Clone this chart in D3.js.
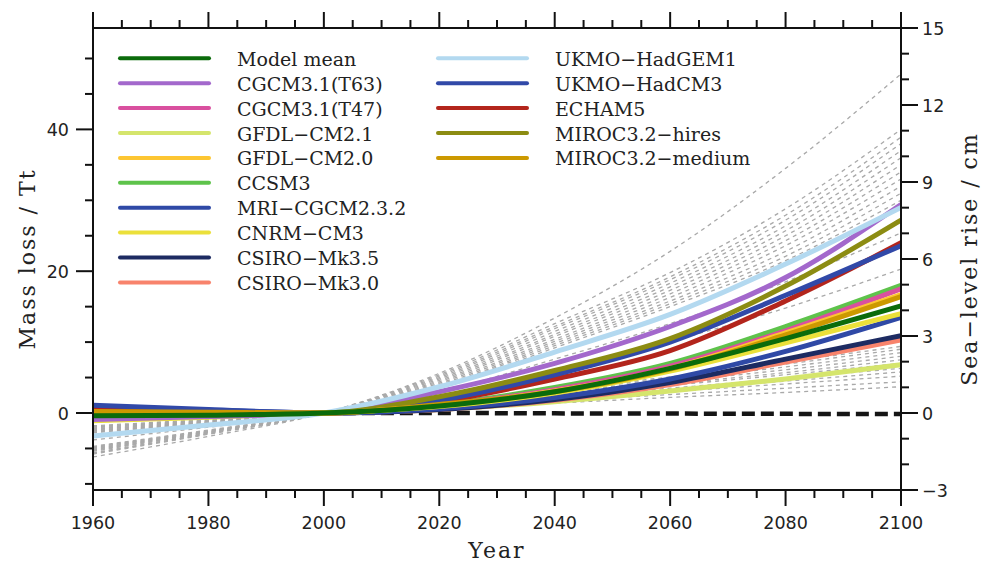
<!DOCTYPE html>
<html>
<head>
<meta charset="utf-8">
<script src="https://cdn.jsdelivr.net/npm/d3@7"></script>
<style>
  body { margin: 0; background: #fff; }
  svg { display: block; }
  .tick-label { font-family: "DejaVu Sans", sans-serif; font-size: 17.5px; fill: #222; }
  .axis-title { font-family: "DejaVu Serif", serif; font-size: 22px; letter-spacing: 2px; fill: #222; }
  .legend-text { font-family: "DejaVu Serif", serif; font-size: 19px; fill: #222; }
</style>
</head>
<body>
<svg width="984" height="563"></svg>
<script>
// sample years for every run
const years = [1960, 1980, 2000, 2020, 2040, 2060, 2080, 2100];

// coloured model runs, mass loss in Tt
const modelNames = [
  'Model mean', 'CGCM3.1(T63)', 'CGCM3.1(T47)', 'GFDL\u2212CM2.1', 'GFDL\u2212CM2.0',
  'CCSM3', 'MRI\u2212CGCM2.3.2', 'CNRM\u2212CM3', 'CSIRO\u2212Mk3.5', 'CSIRO\u2212Mk3.0',
  'UKMO\u2212HadGEM1', 'UKMO\u2212HadCM3', 'ECHAM5', 'MIROC3.2\u2212hires', 'MIROC3.2\u2212medium'
];
const modelMean   = [-0.4, -0.3, 0, 1.0, 3.0, 6.3, 10.5, 15.1];
const cgcmT63     = [-0.9, -0.5, 0, 3.0, 7.0, 12.2, 19.1, 29.4];
const cgcmT47     = [-0.6, -0.3, 0, 1.1, 3.3, 6.6, 11.6, 17.5];
const gfdl21      = [-0.5, -0.3, 0, 0.5, 1.6, 3.1, 4.8, 6.8];
const gfdl20      = [-0.2, -0.1, 0, 1.1, 3.1, 6.3, 11.3, 16.7];
const ccsm3       = [0.0, 0.0, 0, 1.2, 3.6, 7.0, 12.2, 18.0];
const mri         = [0.9, 0.4, 0, 0.6, 2.2, 4.8, 8.7, 13.5];
const cnrm        = [-1.1, -0.6, 0, 0.9, 2.8, 5.9, 9.9, 14.0];
const csiro35     = [0.6, 0.3, 0, 0.5, 1.9, 4.3, 7.6, 10.9];
const csiro30     = [-0.2, -0.1, 0, 0.5, 1.8, 4.0, 7.2, 10.3];
const hadgem1     = [-3.25, -1.7, 0, 3.7, 8.6, 13.9, 21.0, 29.0];
const hadcm3      = [1.1, 0.5, 0, 1.8, 5.4, 10.0, 16.6, 23.6];
const echam5      = [0.5, 0.2, 0, 1.6, 4.8, 8.8, 15.8, 24.0];
const mirocHires  = [-0.3, -0.2, 0, 2.3, 6.0, 10.5, 17.9, 27.2];
const mirocMedium = [0.2, 0.1, 0, 1.2, 3.0, 6.2, 11.0, 16.4];

const modelColors = [
  '#0b6b0b', '#a368cc', '#d9509f', '#d5e56c', '#fdc632',
  '#5ec34b', '#2f49a6', '#ebe03a', '#1d2b62', '#f8836c',
  '#b3d9f0', '#3149a8', '#b3251c', '#8c8c12', '#cc9900'
];
const modelSeries = [
  modelMean, cgcmT63, cgcmT47, gfdl21, gfdl20, ccsm3, mri, cnrm, csiro35, csiro30,
  hadgem1, hadcm3, echam5, mirocHires, mirocMedium
];
// drawing order (last on top)
const drawOrder = [3, 9, 8, 6, 7, 5, 2, 12, 11, 1, 10, 13, 4, 14, 0];

// grey dashed runs
const greyRuns = [
  [-6.2, -3.3, 0, 5.6, 13.4, 22.8, 34.5, 47.8],
  [-5.8, -3.0, 0, 5.4, 12.6, 19.8, 28.8, 40.0],
  [-5.7, -2.9, 0, 5.2, 12.2, 19.2, 27.9, 38.9],
  [-5.6, -2.9, 0, 5.0, 11.9, 18.8, 27.2, 38.0],
  [-5.4, -2.8, 0, 4.8, 11.5, 18.3, 26.4, 37.0],
  [-5.3, -2.7, 0, 4.6, 11.1, 17.8, 25.7, 36.0],
  [-5.2, -2.7, 0, 4.4, 10.8, 17.3, 25.0, 35.0],
  [-5.1, -2.6, 0, 4.2, 10.4, 16.8, 24.3, 34.0],
  [-5.0, -2.6, 0, 4.0, 10.1, 16.3, 23.6, 33.0],
  [-4.9, -2.5, 0, 3.8, 9.8, 15.8, 22.8, 32.0],
  [-4.8, -2.5, 0, 3.7, 9.5, 15.4, 22.1, 31.0],
  [-4.7, -2.4, 0, 3.5, 9.2, 15.0, 21.5, 30.0],
  [-3.8, -2.0, 0, 3.0, 7.6, 12.6, 18.5, 25.4],
  [-3.2, -1.7, 0, 2.4, 6.0, 10.1, 14.8, 20.3],
  [-2.8, -1.4, 0, 1.5, 3.2, 5.1, 7.2, 9.4],
  [-2.7, -1.4, 0, 1.5, 3.1, 4.9, 6.9, 9.0],
  [-2.6, -1.3, 0, 1.4, 2.9, 4.6, 6.5, 8.5],
  [-2.5, -1.3, 0, 1.3, 2.8, 4.4, 6.1, 8.0],
  [-2.4, -1.2, 0, 1.3, 2.6, 4.1, 5.7, 7.5],
  [-2.3, -1.2, 0, 1.2, 2.5, 3.9, 5.4, 7.0],
  [-2.2, -1.1, 0, 1.1, 2.3, 3.5, 4.9, 6.3],
  [-2.1, -1.1, 0, 1.0, 2.1, 3.3, 4.5, 5.8],
  [-2.0, -1.0, 0, 0.9, 1.9, 3.0, 4.1, 5.2],
  [-1.9, -1.0, 0, 0.8, 1.7, 2.6, 3.5, 4.4],
  [-1.8, -0.9, 0, 0.7, 1.4, 2.2, 2.9, 3.7]
];

// black dashed control run
const controlYears = [2000, 2020, 2040, 2060, 2080, 2100];
const controlRun = [0, 0, -0.05, -0.08, -0.12, -0.15];

// axis ticks
const yearTicks = [1960, 1980, 2000, 2020, 2040, 2060, 2080, 2100];
const massTicks = [0, 20, 40];
const seaTicks = [-3, 0, 3, 6, 9, 12, 15];
const ttPerCm = 3.62;

const svg = d3.select('svg');
const plotLeft = 93, plotRight = 901, plotTop = 28, plotBottom = 490;

const x = d3.scaleLinear().domain([1960, 2100]).range([plotLeft, plotRight]);
const ySea = d3.scaleLinear().domain([-3, 15]).range([plotBottom, plotTop]);
const y = d3.scaleLinear().domain([-3 * ttPerCm, 15 * ttPerCm]).range([plotBottom, plotTop]);

svg.append('defs').append('clipPath').attr('id', 'plot')
  .append('rect').attr('x', plotLeft).attr('y', plotTop)
  .attr('width', plotRight - plotLeft).attr('height', plotBottom - plotTop);

const plot = svg.append('g').attr('clip-path', 'url(#plot)');
const line = d3.line().x(d => x(d[0])).y(d => y(d[1])).curve(d3.curveMonotoneX);

plot.selectAll('path.grey')
  .data(greyRuns)
  .enter().append('path')
  .attr('class', 'grey')
  .attr('d', d => line(years.map((yr, i) => [yr, d[i]])))
  .attr('fill', 'none')
  .attr('stroke', '#a9a9a9')
  .attr('stroke-width', 1.3)
  .attr('stroke-dasharray', '4,4');

plot.append('path')
  .attr('d', line(controlYears.map((yr, i) => [yr, controlRun[i]])))
  .attr('fill', 'none')
  .attr('stroke', '#151515')
  .attr('stroke-width', 4.5)
  .attr('stroke-dasharray', '13,6');

plot.selectAll('path.model')
  .data(drawOrder)
  .enter().append('path')
  .attr('class', 'model')
  .attr('d', k => line(years.map((yr, i) => [yr, modelSeries[k][i]])))
  .attr('fill', 'none')
  .attr('stroke', k => modelColors[k])
  .attr('stroke-width', 5);

// frame
const axes = svg.append('g').attr('stroke', '#111').attr('stroke-width', 2);
axes.append('rect')
  .attr('x', plotLeft).attr('y', plotTop)
  .attr('width', plotRight - plotLeft).attr('height', plotBottom - plotTop)
  .attr('fill', 'none');

// x ticks, bottom and top, every 5 years
d3.range(1960, 2101, 5).forEach(yr => {
  const len = yr % 20 === 0 ? 16 : 8;
  axes.append('line').attr('x1', x(yr)).attr('x2', x(yr)).attr('y1', plotBottom).attr('y2', plotBottom + len);
  axes.append('line').attr('x1', x(yr)).attr('x2', x(yr)).attr('y1', plotTop).attr('y2', plotTop - len);
});

// left ticks every 5 Tt
d3.range(-10, 55, 5).forEach(v => {
  const len = v % 20 === 0 ? 17 : 8;
  axes.append('line').attr('x1', plotLeft).attr('x2', plotLeft - len).attr('y1', y(v)).attr('y2', y(v));
});

// right ticks every 1 cm
d3.range(-3, 16, 1).forEach(v => {
  const len = v % 3 === 0 ? 17 : 8;
  axes.append('line').attr('x1', plotRight).attr('x2', plotRight + len).attr('y1', ySea(v)).attr('y2', ySea(v));
});

svg.selectAll('text.xlab')
  .data(yearTicks)
  .enter().append('text')
  .attr('class', 'tick-label')
  .attr('x', d => x(d))
  .attr('y', 529)
  .attr('text-anchor', 'middle')
  .text(d => d);

svg.selectAll('text.ylab')
  .data(massTicks)
  .enter().append('text')
  .attr('class', 'tick-label')
  .attr('x', 69)
  .attr('y', d => y(d) + 6.5)
  .attr('text-anchor', 'end')
  .text(d => d);

svg.selectAll('text.rlab')
  .data(seaTicks)
  .enter().append('text')
  .attr('class', 'tick-label')
  .attr('x', 922)
  .attr('y', d => ySea(d) + 6.5)
  .text(d => d < 0 ? '\u2212' + Math.abs(d) : d);

svg.append('text')
  .attr('class', 'axis-title')
  .attr('x', (plotLeft + plotRight) / 2)
  .attr('y', 558)
  .attr('text-anchor', 'middle')
  .text('Year');

svg.append('text')
  .attr('class', 'axis-title')
  .attr('transform', `translate(35,${(plotTop + plotBottom) / 2}) rotate(-90)`)
  .attr('text-anchor', 'middle')
  .text('Mass loss / Tt');

svg.append('text')
  .attr('class', 'axis-title')
  .attr('transform', `translate(977,${(plotTop + plotBottom) / 2}) rotate(-90)`)
  .attr('text-anchor', 'middle')
  .text('Sea\u2212level rise / cm');

// legend, two columns
const legend = svg.append('g');
modelNames.forEach((name, i) => {
  const col = i < 10 ? 0 : 1;
  const row = i < 10 ? i : i - 10;
  const lx = col === 0 ? 120 : 438;
  const ly = 58.3 + row * 24.9;
  legend.append('line')
    .attr('x1', lx).attr('x2', lx + 89)
    .attr('y1', ly).attr('y2', ly)
    .attr('stroke', modelColors[i])
    .attr('stroke-width', 4)
    .attr('stroke-linecap', 'round');
  legend.append('text')
    .attr('class', 'legend-text')
    .attr('x', lx + 117)
    .attr('y', ly + 7.5)
    .text(name);
});
</script>
</body>
</html>
